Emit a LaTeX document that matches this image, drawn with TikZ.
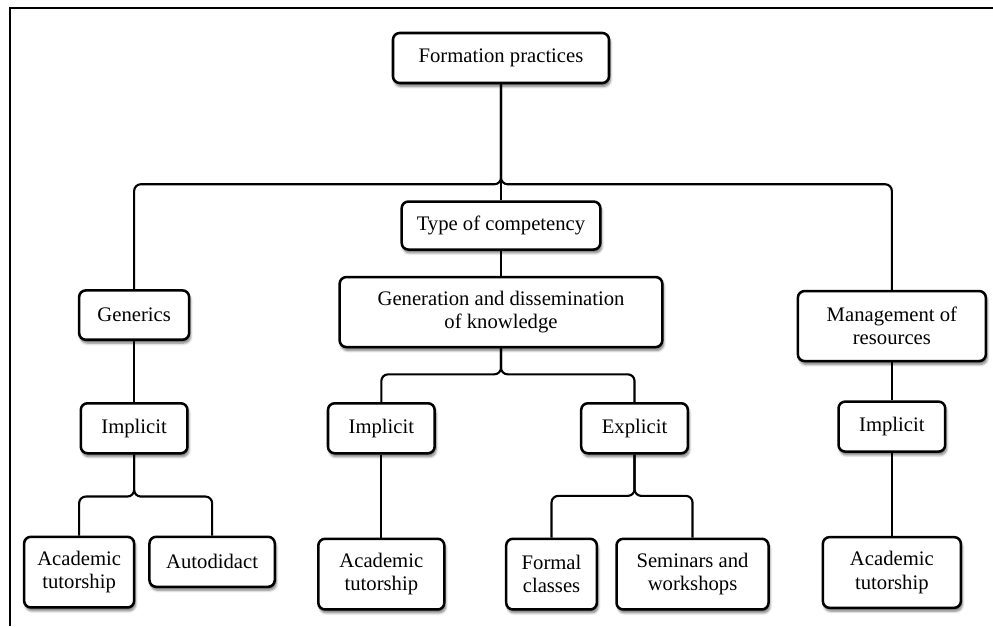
\documentclass[tikz,border=0pt]{standalone}
\usepackage{fontspec}
\setmainfont{Liberation Serif}
\usetikzlibrary{calc,shadows,shadows.blur,positioning}
\tikzstyle{practice}=[rectangle,draw=black,line width=1.9pt,rounded corners=5pt,fill=white,align=center,inner sep=2pt,font=\fontsize{15.5}{17.5}\selectfont,blur shadow={shadow xshift=1pt,shadow yshift=-2.5pt,shadow blur steps=6,shadow opacity=55}]
\tikzstyle{link}=[line width=1.6pt,rounded corners=5pt]

\begin{document}
\begin{tikzpicture}
    \useasboundingbox (0,0) rectangle (744.75pt,-469.5pt);
    \coordinate (frame_ne) at (744.75pt,-6pt);
    \coordinate (frame_nw) at (7.5pt,-6pt);
    \coordinate (frame_sw) at (7.5pt,-469.5pt);
    \draw[line width=1.5pt] (frame_ne) -- (frame_nw) -- (frame_sw);

    \node[practice, minimum width=162pt, minimum height=37.5pt](formation) at (375.75pt,-43.5pt){Formation practices};
    \node[practice, minimum width=149pt, minimum height=36pt](type)[below=87pt of formation]{Type of competency};
    \node[practice, minimum width=242pt, minimum height=52.5pt](gener)[below=18.75pt of type]{Generation and dissemination\\of knowledge};

    \node[practice, minimum width=82.5pt, minimum height=37pt](generics)[left=111pt of gener, yshift=-2.25pt]{Generics};
    \node[practice, minimum width=141pt, minimum height=52.5pt](mgmt)[right=99.75pt of gener, yshift=-10.5pt]{Management of\\resources};

    \node[practice, minimum width=80pt, minimum height=37.5pt](impl_gen)[below=45.75pt of generics]{Implicit};
    \node[practice, minimum width=80pt, minimum height=37.5pt](impl_kn)[right=103.5pt of impl_gen]{Implicit};
    \node[practice, minimum width=80pt, minimum height=37.5pt](expl)[right=108pt of impl_kn]{Explicit};
    \node[practice, minimum width=80pt, minimum height=37.5pt](impl_res)[below=28.5pt of mgmt]{Implicit};

    \node[practice, minimum width=82.5pt, minimum height=53pt](acad_gen)[below=60.75pt of impl_gen, xshift=-41.25pt]{Academic\\tutorship};
    \node[practice, minimum width=94pt, minimum height=37.5pt](autodid)[below=60.75pt of impl_gen, xshift=58.5pt]{Autodidact};
    \node[practice, minimum width=94.5pt, minimum height=53pt](acad_kn)[below=62.25pt of impl_kn]{Academic\\tutorship};
    \node[practice, minimum width=68pt, minimum height=53pt](formal)[below=62.25pt of expl, xshift=-62.25pt]{Formal\\classes};
    \node[practice, minimum width=114pt, minimum height=53pt](seminars)[below=62.25pt of expl, xshift=43.5pt]{Seminars and\\workshops};
    \node[practice, minimum width=103.5pt, minimum height=53pt](acad_res)[below=62.25pt of impl_res]{Academic\\tutorship};

    \coordinate (fork_top) at ($(type.north)+(0,12pt)$);
    \coordinate (fork_kn) at ($(gener.south)+(0,-19.5pt)$);
    \coordinate (fork_gen) at ($(impl_gen.south)+(0,-31.5pt)$);
    \coordinate (fork_expl) at ($(expl.south)+(0,-31pt)$);

    \draw[link](formation.south) -- (type.north);
    \draw[link](formation.south) -- (fork_top) -| (generics.north);
    \draw[link](formation.south) -- (fork_top) -| (mgmt.north);
    \draw[link](type.south) -- (gener.north);
    \draw[link](gener.south) -- (fork_kn) -| (impl_kn.north);
    \draw[link](gener.south) -- (fork_kn) -| (expl.north);
    \draw[link](generics.south) -- (impl_gen.north);
    \draw[link](impl_gen.south) -- (fork_gen) -| (acad_gen.north);
    \draw[link](impl_gen.south) -- (fork_gen) -| (autodid.north);
    \draw[link](impl_kn.south) -- (acad_kn.north);
    \draw[link](expl.south) -- (fork_expl) -| (formal.north);
    \draw[link](expl.south) -- (fork_expl) -| (seminars.north);
    \draw[link](mgmt.south) -- (impl_res.north);
    \draw[link](impl_res.south) -- (acad_res.north);
  \end{tikzpicture}
\end{document}
